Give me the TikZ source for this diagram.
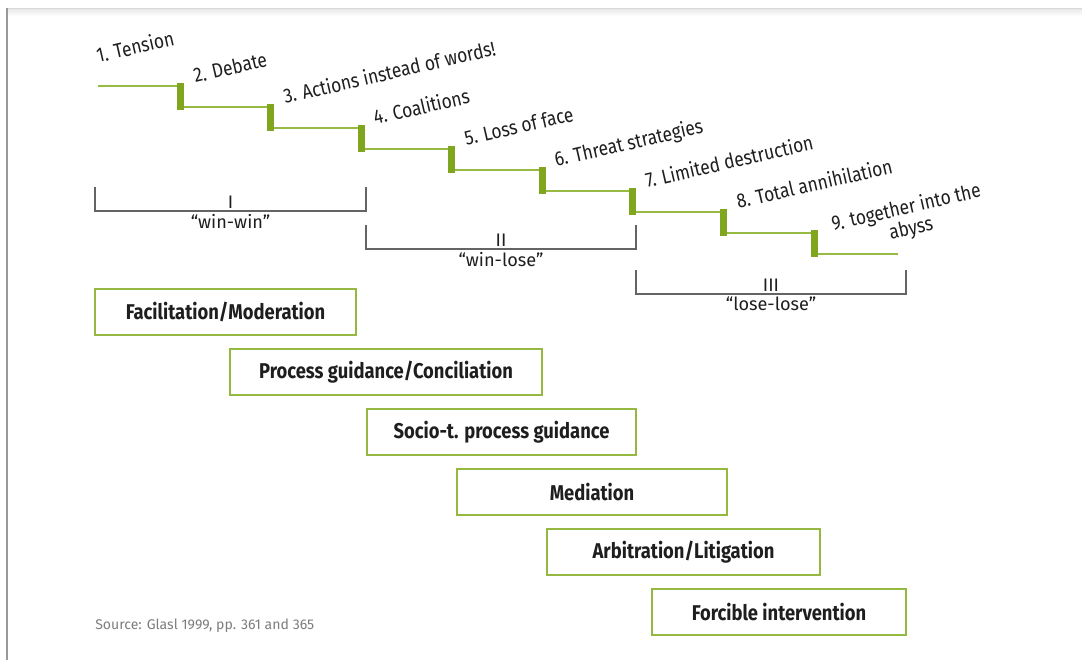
\documentclass[tikz,border=0pt]{standalone}
\usepackage{fontspec}
\setmainfont{Fira Sans}[FakeStretch=0.86]
\newfontfamily\plainsans{Fira Sans}[Ligatures=TeX]
\usepackage{xcolor}
\usepackage{tikz}
\usetikzlibrary{positioning}

\definecolor{stepgreen}{RGB}{150,186,66}
\definecolor{bargreen}{RGB}{128,166,32}
\definecolor{boxgreen}{RGB}{148,184,64}
\definecolor{bracketgray}{RGB}{100,100,100}
\definecolor{textdark}{RGB}{30,30,30}
\definecolor{sourcegray}{RGB}{125,125,125}

\begin{document}
\begin{tikzpicture}[x=0.025cm, y=-0.025cm]
    % Define styles
    \tikzstyle{stair} = [draw=stepgreen, line width=1.8pt]
    \tikzstyle{riser} = [fill=bargreen]
    \tikzstyle{stage} = [font=\fontsize{14.4}{15.3}\selectfont, text=textdark, rotate=13, anchor=base west, inner sep=0pt]
    \tikzstyle{bracket} = [draw=bracketgray, line width=1.3pt]
    \tikzstyle{numeral} = [font=\plainsans\fontsize{12.9}{14}\selectfont, text=textdark, inner sep=1.5pt]
    \tikzstyle{outcome} = [font=\plainsans\fontsize{12.9}{14}\selectfont, text=textdark, inner sep=2pt]
    \tikzstyle{method} = [rectangle, draw=boxgreen, line width=1.6pt, minimum height=1.15cm, font=\fontsize{15.2}{17}\selectfont\bfseries, text=textdark]

    \useasboundingbox (0,0) rectangle (1082,660);

    % Page frame
    \shade[top color=black!10, bottom color=white] (7,8) rectangle (1082,16);
    \draw[black!15, line width=0.6pt] (7,8) -- (1082,8);
    \draw[black!40, line width=0.8pt] (7,8) -- (7,660);

    % Escalation stairs
    \draw[stair] (98,86) -- (180,86);
    \draw[stair] (180,107) -- (270,107);
    \draw[stair] (270,128) -- (361,128);
    \draw[stair] (361,149) -- (451,149);
    \draw[stair] (451,170) -- (542,170);
    \draw[stair] (542,191) -- (632,191);
    \draw[stair] (632,212) -- (723,212);
    \draw[stair] (723,233) -- (814,233);
    \draw[stair] (814,254) -- (898,254);

    \fill[riser] (176.5,83) rectangle (183.5,110);
    \fill[riser] (266.5,104) rectangle (273.5,131);
    \fill[riser] (357.5,125) rectangle (364.5,152);
    \fill[riser] (447.5,146) rectangle (454.5,173);
    \fill[riser] (538.5,167) rectangle (545.5,194);
    \fill[riser] (628.5,188) rectangle (635.5,215);
    \fill[riser] (719.5,209) rectangle (726.5,236);
    \fill[riser] (810.5,230) rectangle (817.5,257);

    % Stage labels
    \node[stage] (tension) at (98,63) {1. Tension};
    \node[stage] (debate) at (195,83) {2. Debate};
    \node[stage] (actions) at (285,104) {3. Actions instead of words!};
    \node[stage] (coalitions) at (375,125) {4. Coalitions};
    \node[stage] (face) at (466,146) {5. Loss of face};
    \node[stage] (threat) at (556,167) {6. Threat strategies};
    \node[stage] (destruction) at (647,188) {7. Limited destruction};
    \node[stage] (annihilation) at (738,209) {8. Total annihilation};
    \node[stage, align=center] (abyss) at (838,252) {9. together into the\\abyss};

    % Phase brackets
    \draw[bracket] (95,187) -- (95,211) -- (366,211) -- (366,187);
    \draw[bracket] (366,225) -- (366,249) -- (636,249) -- (636,225);
    \draw[bracket] (636,270) -- (636,294) -- (906,294) -- (906,270);

    \node[numeral, above] (phaseone) at (230.5,211) {I};
    \node[outcome, below] (winwin) at (230.5,211) {“win-win”};
    \node[numeral, above] (phasetwo) at (501,249) {II};
    \node[outcome, below] (winlose) at (501,249) {“win-lose”};
    \node[numeral, above] (phasethree) at (771,294) {III};
    \node[outcome, below] (loselose) at (771,294) {“lose-lose”};

    % Intervention types
    \node[method, minimum width=6.525cm] (facilitation) at (225.5,312) {Facilitation/Moderation};
    \node[method, minimum width=7.8cm] (conciliation) at (386,372) {Process guidance/Conciliation};
    \node[method, minimum width=6.725cm] (sociot) at (501.5,432) {Socio-t. process guidance};
    \node[method, minimum width=6.75cm] (mediation) at (592,492) {Mediation};
    \node[method, minimum width=6.825cm] (arbitration) at (683.5,552) {Arbitration/Litigation};
    \node[method, minimum width=6.35cm] (forcible) at (779,612) {Forcible intervention};

    % Source
    \node[anchor=west, inner sep=0pt, text=sourcegray, font=\plainsans\fontsize{10}{12}\selectfont] (source) at (95,626) {Source: Glasl 1999, pp. 361 and 365};

\end{tikzpicture}
\end{document}
